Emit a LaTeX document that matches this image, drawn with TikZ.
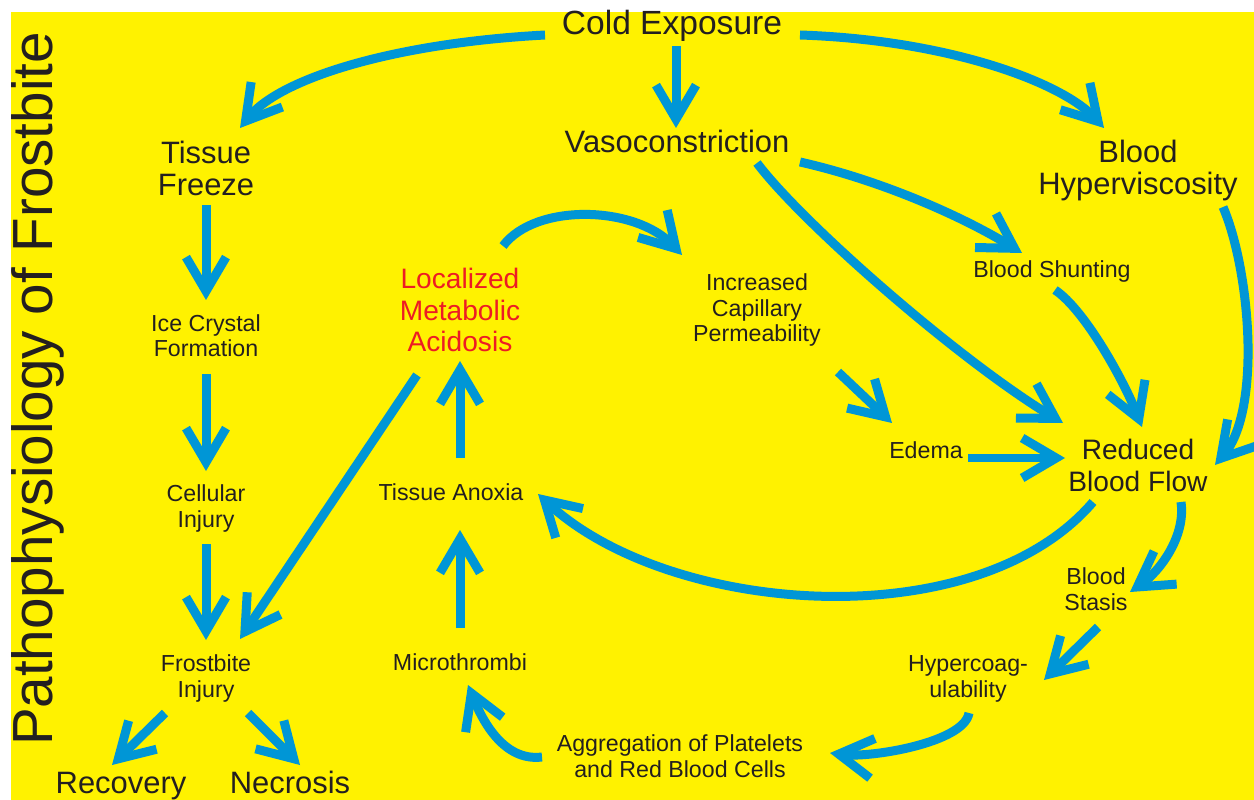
\documentclass[tikz,border=0pt]{standalone}
\usepackage{fontspec}
\setmainfont{Liberation Sans}
\usetikzlibrary{arrows.meta,calc}
\definecolor{flowblue}{RGB}{0,150,214}
\definecolor{bgyellow}{RGB}{255,242,0}
\definecolor{acidred}{RGB}{237,28,36}
\definecolor{ink}{RGB}{35,31,32}
\begin{document}
\begin{tikzpicture}[x=0.02cm,y=-0.02cm,
  lbl/.style={text=ink,align=center,anchor=base,inner sep=0pt},
  big/.style={lbl,font=\fontsize{17.6}{18.7}\selectfont},
  mid/.style={lbl,font=\fontsize{16}{18.1}\selectfont},
  small/.style={lbl,font=\fontsize{13.2}{14.7}\selectfont},
  arr/.style={draw=flowblue,line width=1.8mm,-{Straight Barb[length=6.8mm,width=8mm]}}]
\useasboundingbox (0,0) rectangle (1254,800);
\fill[bgyellow] (11,12) rectangle (1254,800);
\node[lbl,font=\fontsize{32.2}{34}\selectfont,rotate=90] (Title) at (52,389) {Pathophysiology of Frostbite};
\node[big,font=\fontsize{19.1}{20}\selectfont] (Cold) at (672,35) {Cold Exposure};
\node[big] (Vaso) at (677,153) {Vasoconstriction};
\node[big] (Freeze) at (206,196) {Tissue\\Freeze};
\node[big] (Hyper) at (1138,195) {Blood\\Hyperviscosity};
\node[mid,text=acidred] (Acid) at (460,352) {Localized\\Metabolic\\Acidosis};
\node[small] (Perm) at (757,342) {Increased\\Capillary\\Permeability};
\node[small] (Shunt) at (1052,278) {Blood Shunting};
\node[small] (Ice) at (206,357) {Ice Crystal\\Formation};
\node[small] (Edema) at (926,458) {Edema};
\node[mid] (Flow) at (1138,491) {Reduced\\Blood Flow};
\node[small] (Anoxia) at (451,500) {Tissue Anoxia};
\node[small] (Cell) at (206,527) {Cellular\\Injury};
\node[small] (Stasis) at (1096,610) {Blood\\Stasis};
\node[small] (Injury) at (206,697) {Frostbite\\Injury};
\node[small] (Thromb) at (460,670) {Microthrombi};
\node[small] (Coag) at (968,697) {Hypercoag-\\ulability};
\node[small] (Aggr) at (680,777) {Aggregation of Platelets\\and Red Blood Cells};
\node[big] (Recov) at (121,793) {Recovery};
\node[big] (Necro) at (290,793) {Necrosis};
\draw[arr] ($(Cold.base)+(-127,0)$) .. controls +(-150,8) and +(40,-50) .. ($(Freeze.base)+(34,-68)$);
\draw[arr] ($(Cold.base)+(4,11)$) -- ($(Vaso.base)+(-1,-25)$);
\draw[arr] ($(Cold.base)+(128,0)$) .. controls +(150,5) and +(-41,-45) .. ($(Hyper.base)+(-34,-67)$);
\draw[arr] ($(Freeze.base)+(0,9)$) -- ($(Ice.base)+(0,-57)$);
\draw[arr] ($(Ice.base)+(0,17)$) -- ($(Cell.base)+(0,-56)$);
\draw[arr] ($(Cell.base)+(0,17)$) -- ($(Injury.base)+(0,-57)$);
\draw[arr] ($(Acid.base)+(-43,23)$) -- ($(Injury.base)+(34,-58)$);
\draw[arr] ($(Anoxia.base)+(9,-42)$) -- ($(Acid.base)+(0,9)$);
\draw[arr] ($(Thromb.base)+(0,-42)$) -- ($(Anoxia.base)+(9,30)$);
\draw[arr] ($(Acid.base)+(43,-106)$) .. controls +(32,-43) and +(-47,-50) .. ($(Perm.base)+(-75,-87)$);
\draw[arr] ($(Perm.base)+(81,30)$) -- ($(Edema.base)+(-34,-35)$);
\draw[arr] ($(Edema.base)+(42,0)$) -- ($(Flow.base)+(-73,-33)$);
\draw[arr] ($(Vaso.base)+(80,10)$) .. controls +(45,60) and +(-103,-62) .. ($(Flow.base)+(-75,-68)$);
\draw[arr] ($(Vaso.base)+(123,9)$) .. controls +(80,18) and +(-60,-37) .. ($(Shunt.base)+(-30,-25)$);
\draw[arr] ($(Shunt.base)+(3,12)$) .. controls +(30,20) and +(-18,-46) .. ($(Flow.base)+(4,-64)$);
\draw[arr] ($(Hyper.base)+(85,12)$) .. controls +(27,63) and +(47,-55) .. ($(Flow.base)+(77,-26)$);
\draw[arr] ($(Flow.base)+(-45,11)$) .. controls +(-117,137) and +(131,122) .. ($(Anoxia.base)+(87,-6)$);
\draw[arr] ($(Flow.base)+(43,11)$) .. controls +(5,35) and +(29,-20) .. ($(Stasis.base)+(34,-18)$);
\draw[arr] ($(Stasis.base)+(2,17)$) -- ($(Coag.base)+(76,-17)$);
\draw[arr] ($(Coag.base)+(1,16)$) .. controls +(-5,30) and +(40,5) .. ($(Aggr.base)+(150,-24)$);
\draw[arr] ($(Aggr.base)+(-138,-20)$) .. controls +(-40,5) and +(13,32) .. ($(Thromb.base)+(8,15)$);
\draw[arr] ($(Injury.base)+(-41,16)$) -- ($(Recov.base)+(-9,-28)$);
\draw[arr] ($(Injury.base)+(42,16)$) -- ($(Necro.base)+(10,-28)$);
\end{tikzpicture}
\end{document}
